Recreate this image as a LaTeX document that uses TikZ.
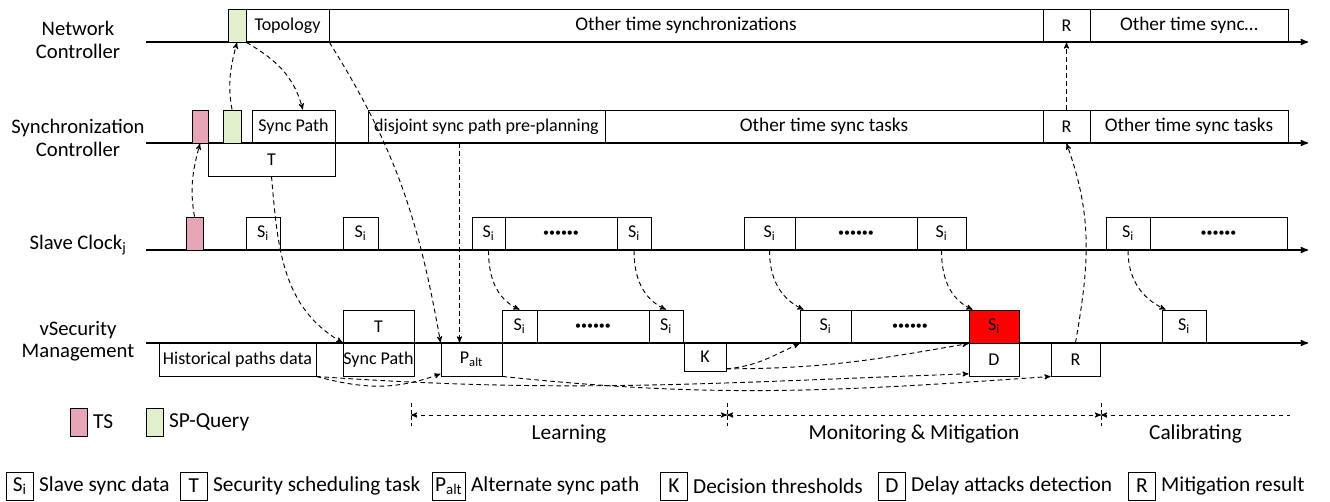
\documentclass[tikz,border=0pt]{standalone}
\usepackage{fontspec}
\setmainfont{Carlito}
\usetikzlibrary{positioning}
\usetikzlibrary{fit}
\usetikzlibrary{arrows}
\usetikzlibrary{calc}

\definecolor{tspink}{RGB}{230,166,181}
\definecolor{spgreen}{RGB}{226,239,205}

\newcommand{\boxfont}{\fontsize{13.5}{15}\selectfont}
\newcommand{\otherfont}{\fontsize{14.5}{16}\selectfont}
\newcommand{\lanefont}{\fontsize{15.5}{17}\selectfont}
\newcommand{\keyfont}{\fontsize{16}{18}\selectfont}
\newcommand{\sixdots}{{\fontsize{9}{9}\selectfont\textbullet\textbullet\textbullet\textbullet\textbullet\textbullet}}
\newcommand{\Si}{S\textsubscript{i}}

\begin{document}
\begin{tikzpicture}[x=0.75pt,y=0.75pt]
\pgfmathsetmacro{\YNC}{-42}
\pgfmathsetmacro{\YSC}{-143}
\pgfmathsetmacro{\YSL}{-250}
\pgfmathsetmacro{\YVS}{-343}
\pgfmathsetmacro{\HB}{33}

\tikzset{
  cell/.style={draw, rectangle, inner sep=0pt, line width=0.7pt, fit={#1}},
  every label/.style={font=\boxfont, inner sep=0pt},
  lane/.style={align=center, font=\lanefont},
  axis/.style={->, >=stealth', line width=1pt},
  flow/.style={->, >=stealth', line width=0.7pt, dash pattern=on 3.5pt off 2.5pt},
  tick/.style={line width=0.6pt, dash pattern=on 3pt off 2pt},
  key/.style={draw, rectangle, line width=0.7pt, inner sep=2pt, minimum width=20pt, minimum height=21pt, font=\keyfont},
  keytext/.style={font=\keyfont, inner sep=2pt},
  phase/.style={font=\keyfont},
}

\useasboundingbox (0,0) rectangle (1330,-501);

\foreach \r/\y in {N/\YNC, S/\YSC, L/\YSL, V/\YVS} {
  \coordinate (ax\r0) at (146,\y);
  \coordinate (ax\r1) at (1308,\y);
  \draw[axis] (ax\r0) -- (ax\r1);
}

\node[lane] (laneN) at (78,-40) {Network\\Controller};
\node[lane] (laneS) at (78,-138) {Synchronization\\Controller};
\node[lane] (laneL) at (78,-245) {Slave Clock\textsubscript{j}};
\node[lane] (laneV) at (78,-341) {vSecurity\\Management};

\node[cell={(228,\YNC+\HB) (246,\YNC)}, fill=spgreen] (spN) {};
\node[cell={(246,\YNC+\HB) (329,\YNC)}, label=center:Topology] (topo) {};
\node[cell={(329,\YNC+\HB) (1043,\YNC)}, label={[font=\otherfont]center:Other time synchronizations}] (otherN) {};
\node[cell={(1043,\YNC+\HB) (1090,\YNC)}, label=center:R] (resN) {};
\node[cell={(1090,\YNC+\HB) (1288,\YNC)}, label={[font=\otherfont]center:Other time sync…}] (otherN2) {};

\node[cell={(192,\YSC+\HB) (208,\YSC)}, fill=tspink] (tsS) {};
\node[cell={(223,\YSC+\HB) (241,\YSC)}, fill=spgreen] (spS) {};
\node[cell={(252,\YSC+\HB) (335,\YSC)}, label=center:Sync Path] (pathS) {};
\node[cell={(208,\YSC) (335,\YSC-\HB)}, label=center:T] (taskS) {};
\node[cell={(368,\YSC+\HB) (605,\YSC)}, label=center:disjoint sync path pre-planning] (disj) {};
\node[cell={(605,\YSC+\HB) (1043,\YSC)}, label={[font=\otherfont]center:Other time sync tasks}] (otherS) {};
\node[cell={(1043,\YSC+\HB) (1090,\YSC)}, label=center:R] (resS) {};
\node[cell={(1090,\YSC+\HB) (1288,\YSC)}, label={[font=\otherfont]center:Other time sync tasks}] (otherS2) {};

\node[cell={(186,\YSL+\HB) (203,\YSL)}, fill=tspink] (tsL) {};
\node[cell={(246,\YSL+\HB) (280,\YSL)}, label=center:\Si] (sL1) {};
\node[cell={(343,\YSL+\HB) (378,\YSL)}, label=center:\Si] (sL2) {};
\node[cell={(472,\YSL+\HB) (505,\YSL)}, label=center:\Si] (sL3) {};
\node[cell={(505,\YSL+\HB) (617,\YSL)}, label=center:\sixdots] (dL1) {};
\node[cell={(617,\YSL+\HB) (651,\YSL)}, label=center:\Si] (sL4) {};
\node[cell={(744,\YSL+\HB) (795,\YSL)}, label=center:\Si] (sL5) {};
\node[cell={(795,\YSL+\HB) (917,\YSL)}, label=center:\sixdots] (dL2) {};
\node[cell={(917,\YSL+\HB) (966,\YSL)}, label=center:\Si] (sL6) {};
\node[cell={(1106,\YSL+\HB) (1150,\YSL)}, label=center:\Si] (sL7) {};
\node[cell={(1150,\YSL+\HB) (1287,\YSL)}, label=center:\sixdots] (dL3) {};

\node[cell={(159,\YVS) (316,\YVS-\HB)}, label=center:Historical paths data] (hist) {};
\node[cell={(343,\YVS+\HB) (414,\YVS)}, label=center:T] (taskV) {};
\node[cell={(343,\YVS) (414,\YVS-\HB)}, label=center:Sync Path] (pathV) {};
\node[cell={(441,\YVS) (502,\YVS-\HB)}, label=center:P\textsubscript{alt}] (palt) {};
\node[cell={(502,\YVS+\HB) (537,\YVS)}, label=center:\Si] (sV1) {};
\node[cell={(537,\YVS+\HB) (649,\YVS)}, label=center:\sixdots] (dV1) {};
\node[cell={(649,\YVS+\HB) (683,\YVS)}, label=center:\Si] (sV2) {};
\node[cell={(684,\YVS) (726,\YVS-28)}, label=center:K] (kth) {};
\node[cell={(800,\YVS+\HB) (851,\YVS)}, label=center:\Si] (sV3) {};
\node[cell={(851,\YVS+\HB) (969,\YVS)}, label=center:\sixdots] (dV2) {};
\node[cell={(969,\YVS+\HB) (1019,\YVS)}, fill=red, label=center:\Si] (sV4) {};
\node[cell={(969,\YVS) (1019,\YVS-\HB)}, label=center:D] (det) {};
\node[cell={(1051,\YVS) (1100,\YVS-\HB)}, label=center:R] (resV) {};
\node[cell={(1162,\YVS+\HB) (1206,\YVS)}, label=center:\Si] (sV5) {};

\draw[flow] (spS.north) to[out=100, in=255] (spN.south);
\draw[flow] (spN.south east) to[out=-30, in=105] ([xshift=7pt]pathS.north);
\draw[flow] (tsL.north) to[out=100, in=255] (tsS.south);
\draw[flow] (taskS.south) to[out=-85, in=150] (pathV.north west);
\draw[flow] (topo.south east) to[out=-58, in=100] (palt.north west);
\coordinate (pdrop) at ($(palt.north west)+(19,0)$);
\draw[flow] (pdrop |- disj.south) -- (pdrop);
\draw[flow] (sL3.south) to[out=-90, in=155] (sV1.north);
\draw[flow] (sL4.south) to[out=-90, in=155] (sV2.north);
\draw[flow] (sL5.south) to[out=-90, in=155] ([xshift=3pt]sV3.north west);
\draw[flow] (sL6.south) to[out=-90, in=155] ([xshift=3pt]sV4.north west);
\draw[flow] (sL7.south) to[out=-90, in=155] ([xshift=3pt]sV5.north west);
\draw[flow] (resV.north) to[out=80, in=-70] (resS.south);
\draw[flow] (resS.north) -- (resN.south);
\draw[flow] ([yshift=2pt]kth.south east) to[out=5, in=205] (sV3.south west);
\draw[flow] ([yshift=2pt]kth.south east) to[out=0, in=190] (sV4.south west);
\draw[flow] (hist.south east) to[out=-15, in=200] ([yshift=2pt]palt.south west);
\draw[flow] (hist.south east) to[out=-4, in=182] ([yshift=2pt]det.south west);
\draw[flow] (palt.south east) to[out=-6, in=184] (resV.south west);

\coordinate (ph0) at (411,-415);
\coordinate (ph1) at (727,-415);
\coordinate (ph2) at (1101,-415);
\coordinate (ph3) at (1290,-415);
\foreach \p in {ph0,ph1,ph2} {
  \draw[tick] ([yshift=9pt]\p) -- ([yshift=-8pt]\p);
}
\draw[flow, <->] (ph0) -- (ph1);
\draw[flow, <->] (ph1) -- (ph2);
\draw[flow, <-] (ph2) -- (ph3);
\node[phase] (learn) at ($(ph0)!0.5!(ph1)+(0,-19)$) {Learning};
\node[phase] (monit) at ($(ph1)!0.5!(ph2)+(0,-19)$) {Monitoring \& Mitigation};
\node[phase] (calib) at ($(ph2)!0.5!(ph3)+(0,-19)$) {Calibrating};

\node[cell={(70,-408) (87,-436)}, fill=tspink] (keyTS) {};
\node[keytext, right=2pt of keyTS] (txtTS) {TS};
\node[cell={(146,-408) (163,-436)}, fill=spgreen] (keySP) {};
\node[keytext, right=2pt of keySP] (txtSP) {SP-Query};

\node[key, anchor=west] (keyS) at (6,-486) {\Si};
\node[keytext, right=2pt of keyS] (txtS) {Slave sync data};
\node[key, anchor=west] (keyT) at (180,-486) {T};
\node[keytext, right=2pt of keyT] (txtT) {Security scheduling task};
\node[key, anchor=west] (keyP) at (432,-486) {P\textsubscript{alt}};
\node[keytext, right=2pt of keyP] (txtP) {Alternate sync path};
\node[key, anchor=west] (keyK) at (660,-486) {K};
\node[keytext, right=2pt of keyK] (txtK) {Decision thresholds};
\node[key, anchor=west] (keyD) at (878,-486) {D};
\node[keytext, right=2pt of keyD] (txtD) {Delay attacks detection};
\node[key, anchor=west] (keyR) at (1128,-486) {R};
\node[keytext, right=2pt of keyR] (txtR) {Mitigation result};
\end{tikzpicture}
\end{document}
